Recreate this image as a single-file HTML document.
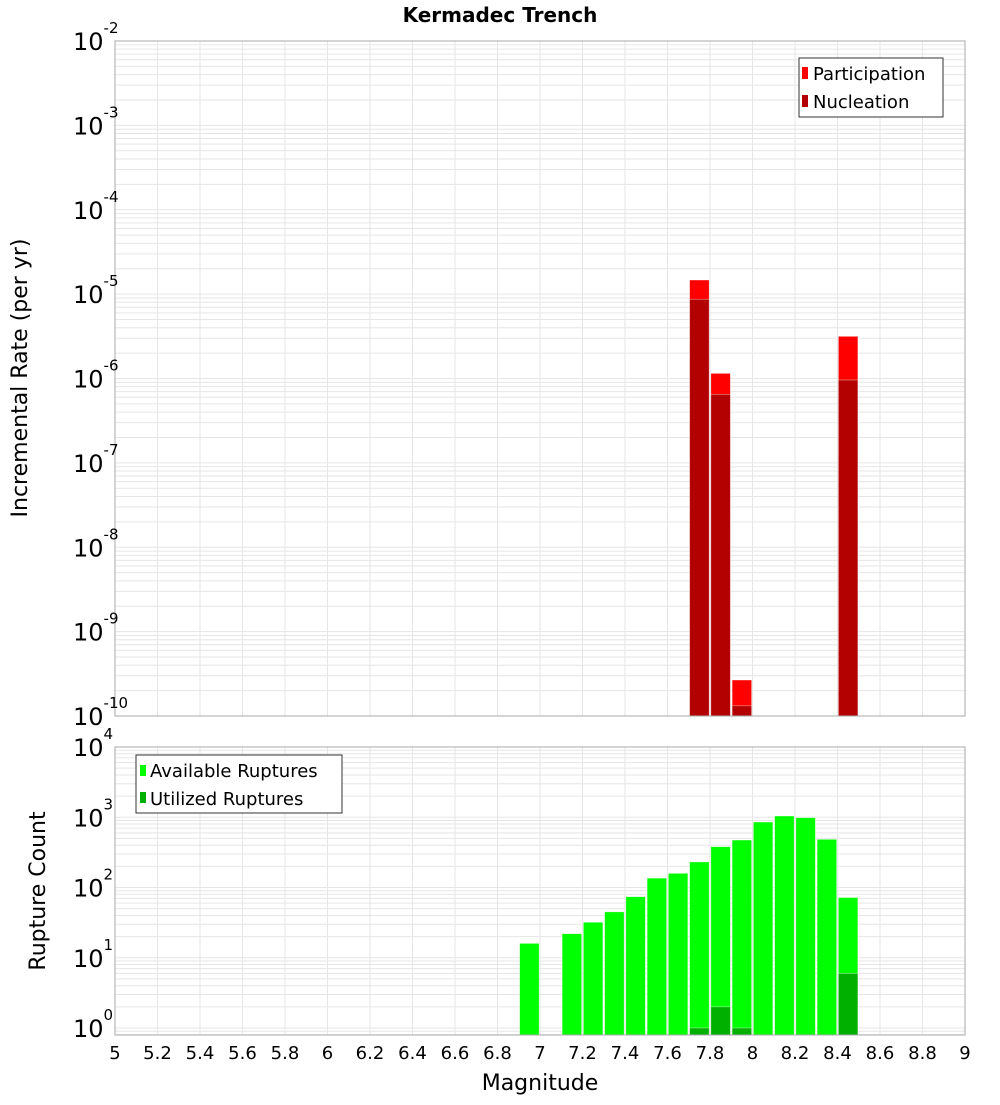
<!DOCTYPE html>
<html><head><meta charset="utf-8"><style>
body{margin:0;background:#fff;}
svg text{font-family:"DejaVu Sans","Liberation Sans",sans-serif;fill:#000;}
</style></head><body>
<svg id="chart" width="1000" height="1100" xmlns="http://www.w3.org/2000/svg">
<text x="500" y="22" text-anchor="middle" font-size="20" font-weight="bold">Kermadec Trench</text>
<text transform="translate(27,378) rotate(-90)" text-anchor="middle" font-size="22">Incremental Rate (per yr)</text>
<text transform="translate(45,891) rotate(-90)" text-anchor="middle" font-size="22">Rupture Count</text>
<text x="540" y="1090" text-anchor="middle" font-size="22">Magnitude</text>
<g id="grid"></g><g id="bars"></g><g id="axes"></g>
<g>
<rect x="799" y="58" width="144" height="59" fill="#fff" stroke="#333"/>
<rect x="802" y="67" width="6" height="12" fill="#ff0000"/>
<text x="813" y="80" font-size="18">Participation</text>
<rect x="802" y="95" width="6" height="12" fill="#b30000"/>
<text x="813" y="108" font-size="18">Nucleation</text>
</g>
<g>
<rect x="136" y="755" width="206" height="58" fill="#fff" stroke="#333"/>
<rect x="140" y="765" width="6" height="11" fill="#00ff00"/>
<text x="150" y="777" font-size="18">Available Ruptures</text>
<rect x="140" y="792" width="6" height="11" fill="#00b000"/>
<text x="150" y="805" font-size="18">Utilized Ruptures</text>
</g>
</svg>
<script>
const topMags=[7.75,7.85,7.95,8.45];
const participation=[1.47e-5,1.15e-6,2.67e-10,3.16e-6];
const nucleation=[8.7e-6,6.5e-7,1.32e-10,9.6e-7];
const botMags=[6.95,7.15,7.25,7.35,7.45,7.55,7.65,7.75,7.85,7.95,8.05,8.15,8.25,8.35,8.45];
const available=[16,22,32,45,74,136,159,231,381,474,855,1042,986,485,72];
const utilizedMags=[7.75,7.85,7.95,8.45];
const utilized=[1,2,1,6];
const xTicks=[5,5.2,5.4,5.6,5.8,6,6.2,6.4,6.6,6.8,7,7.2,7.4,7.6,7.8,8,8.2,8.4,8.6,8.8,9];
const topExps=[-2,-3,-4,-5,-6,-7,-8,-9,-10];
const botExps=[4,3,2,1,0];

const NS="http://www.w3.org/2000/svg";
const X0=115,X1=965;
const xs=m=>X0+(m-5)/4*(X1-X0);
const T0=41,T1=716;
const yTop=v=>T0+(-2-Math.log10(v))*(T1-T0)/8;
const B0=747,B1=1035;
const yBot=v=>B0+(4-Math.log10(v))*70.25;
function mk(tag,attrs,parent){const e=document.createElementNS(NS,tag);for(const k in attrs)e.setAttribute(k,attrs[k]);parent.appendChild(e);return e;}
const grid=document.getElementById('grid'),bars=document.getElementById('bars'),axes=document.getElementById('axes');
const gc='#e6e6e6';
// grids
xTicks.forEach(t=>{
 [[T0,T1],[B0,B1]].forEach(r=>{const l=mk('line',{x1:xs(t),x2:xs(t),y1:r[0],y2:r[1],stroke:gc},grid);
 
 });
});
for(let e=-10;e<-2;e++)for(let k=1;k<10;k++){const y=yTop(k*Math.pow(10,e));const l=mk('line',{x1:X0,x2:X1,y1:y,y2:y,stroke:gc},grid);
 
 }
for(let e=-1;e<4;e++)for(let k=1;k<10;k++){const y=yBot(k*Math.pow(10,e));if(y>B1||y<B0)continue;const l=mk('line',{x1:X0,x2:X1,y1:y,y2:y,stroke:gc},grid);
 
 }
const bw=19.5;
function bar(m,v,yf,base,fill,name){const y=yf(v);const r=mk('rect',{x:xs(m)-bw/2,y:y,width:bw,height:base-y,fill:fill,stroke:'#fff','stroke-width':0.6,'stroke-opacity':0.6},bars);
 
 }
topMags.forEach((m,i)=>bar(m,participation[i],yTop,T1,'#ff0000','participation-bar'));
topMags.forEach((m,i)=>bar(m,nucleation[i],yTop,T1,'#b30000','nucleation-bar'));
botMags.forEach((m,i)=>bar(m,available[i],yBot,B1,'#00ff00','available-bar'));
utilizedMags.forEach((m,i)=>bar(m,utilized[i],yBot,B1,'#00b000','utilized-bar'));
// frames
[[T0,T1],[B0,B1]].forEach(r=>{const f=mk('rect',{x:X0,y:r[0],width:X1-X0,height:r[1]-r[0],fill:'none',stroke:'#aaa'},axes);
 
 });
xTicks.forEach(t=>{const tx=mk('text',{x:xs(t),y:1059,'text-anchor':'middle','font-size':18},axes);tx.textContent=String(t);
 
 });
function ylab(e,y,name){const tx=mk('text',{x:73,y:y+9,'font-size':24},axes);tx.textContent='10';
 
 
 const s=mk('tspan',{dy:-17,'font-size':15},tx);s.textContent=String(e);}
topExps.forEach(e=>ylab(e,yTop(Math.pow(10,e)),'top-y-tick-label'));
botExps.forEach(e=>ylab(e,yBot(Math.pow(10,e)),'bottom-y-tick-label'));
</script>
</body></html>
